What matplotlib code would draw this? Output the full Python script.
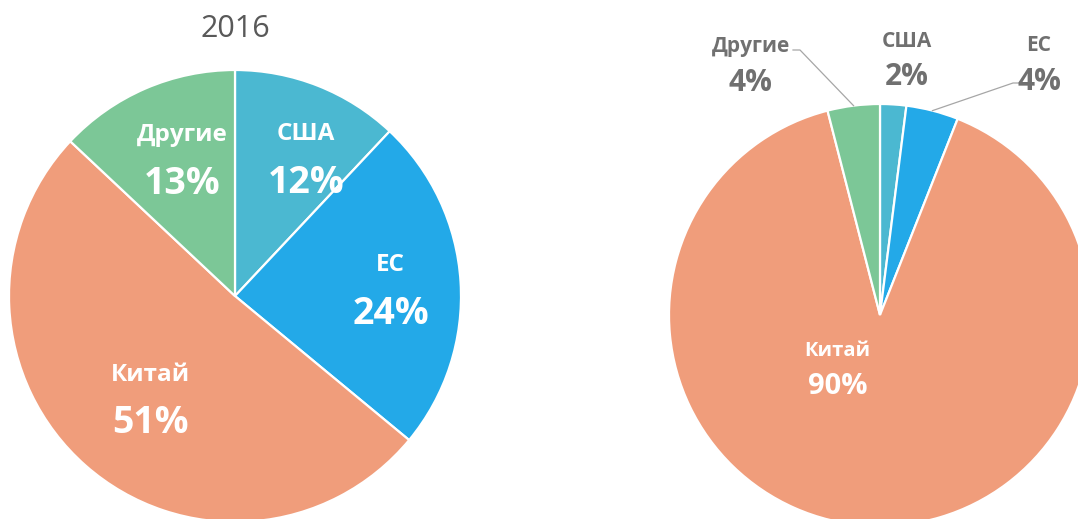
import numpy as np
import matplotlib
matplotlib.use("Agg")
import matplotlib.pyplot as plt

plt.rcParams['font.family'] = ['Open Sans', 'DejaVu Sans']

# ---- data ----
categories = ["США", "ЕС", "Китай", "Другие"]
values_2016 = [12, 24, 51, 13]
values_right = [2, 4, 90, 4]
title_left = "2016"
colors = ["#4BB8D1", "#23A9E8", "#F09D7B", "#7CC797"]

W, H = 1078, 519
fig = plt.figure(figsize=(W / 100, H / 100), dpi=100)


def make_axes(cx, cy, r):
    return fig.add_axes([(cx - r) / W, (H - cy - r) / H, 2 * r / W, 2 * r / H])


def draw_pie(ax, vals):
    wedges, _ = ax.pie(vals, colors=colors, startangle=90, counterclock=False,
                       radius=1.0,
                       wedgeprops=dict(edgecolor="white", linewidth=1.6))
    ax.set_xlim(-1, 1)
    ax.set_ylim(-1, 1)
    ax.set_aspect('equal')
    ax.axis('off')
    return wedges


def pol(angle, r):
    a = np.deg2rad(angle)
    return r * np.cos(a), r * np.sin(a)


def two_line(ax, x, y, name, pct, color, s1, s2, gap):
    ax.text(x, y, name, ha='center', va='center', color=color, fontsize=s1,
            fontweight='bold', transform=ax.transData, clip_on=False)
    ax.annotate(pct, (x, y), xytext=(0, -gap), textcoords='offset points',
                ha='center', va='center', color=color, fontsize=s2,
                fontweight='bold', annotation_clip=False)


# ---- left pie ----
CXL, CYL, RL = 235, 296, 226
axL = make_axes(CXL, CYL, RL)
wl = draw_pie(axL, values_2016)
left_label_pos = {"США": (63, 0.69), "ЕС": (3, 0.69),
                  "Китай": (-130, 0.585), "Другие": (111, 0.655)}
name_dy = 0.10
for cat, v in zip(categories, values_2016):
    ang, rr = left_label_pos[cat]
    x, y = pol(ang, rr)
    two_line(axL, x, y + name_dy, cat, f"{v}%", "white", 17.5, 27, 35)

fig.text(235 / W, 1 - 29 / H, title_left, ha='center', va='center',
         fontsize=22, color="#595959")

# ---- right pie ----
CXR, CYR, RR = 880, 315, 211
axR = make_axes(CXR, CYR, RR)
wr = draw_pie(axR, values_right)

# inside label (Китай)
x, y = pol(-129, 0.32)
two_line(axR, x, y + 0.08, "Китай", f"{values_right[2]}%", "white", 14.5, 21, 25.5)

gray = "#707070"
outside = {"США": (84, 1.22), "ЕС": (57.7, 1.41), "Другие": (117.3, 1.335)}
for i, cat in enumerate(categories):
    if cat == "Китай":
        continue
    ang, rr = outside[cat]
    x, y = pol(ang, rr)
    two_line(axR, x, y + 0.085, cat, f"{values_right[i]}%", gray, 15, 21.5, 26)


def px(xp, yp):
    return (xp - CXR) / RR, (CYR - yp) / RR


# leader lines
for i, cat in enumerate(categories):
    if cat not in ("Другие", "ЕС"):
        continue
    w = wr[i]
    mid = (w.theta1 + w.theta2) / 2
    ex, ey = pol(mid, 1.0)
    if cat == "Другие":
        p1 = px(800, 50)
        p0 = px(793, 50)
    else:
        p1 = px(1013, 83)
        p0 = px(1020, 83)
    axR.plot([ex, p1[0], p0[0]], [ey, p1[1], p0[1]], color="#A6A6A6",
             lw=0.9, clip_on=False)

fig.savefig("out.png", dpi=100)
